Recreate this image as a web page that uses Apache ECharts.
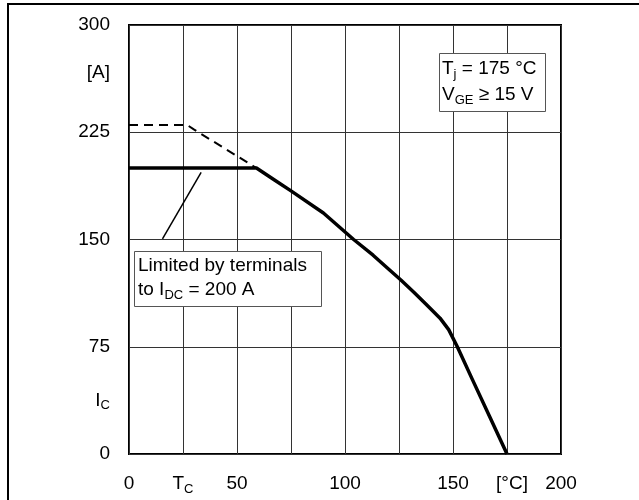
<!DOCTYPE html>
<html>
<head>
<meta charset="utf-8">
<script src="https://cdn.jsdelivr.net/npm/echarts@6/dist/echarts.min.js"></script>
<style>html,body{margin:0;padding:0;background:#fff;}#c{width:639px;height:500px;}</style>
</head>
<body>
<div id="c"></div>
<script>
// Data
const solidT = [0, 59, 67, 75, 90, 104, 113, 120, 126, 132, 138, 144, 148, 152, 159, 167, 175];
const solidI = [200, 200, 192, 184, 168.5, 150, 139, 129.5, 121.5, 113, 104, 95, 87, 75, 52, 26, 0];
const dashT = [0, 27, 30, 59];
const dashI = [230, 230, 227, 200];
const leaderT = [15.5, 33.4];
const leaderI = [150.4, 197];
const xTickLabels = ['0', '{it|T}{sub|C}', '50', '', '100', '', '150', '{deg|[°C]}', '200'];
const yTickLabels = ['0', '{ic|I}{icsub|C}', '75', '', '150', '', '225', '{amp|[A]}', '300'];

const FONT = '"Liberation Sans", Arial, sans-serif';
const FS = 19;

const chart = echarts.init(document.getElementById('c'), null, {renderer: 'canvas'});
const zip = (a, b) => a.map((v, i) => [v, b[i]]);

chart.setOption({
  animation: false,
  backgroundColor: '#fff',
  grid: {left: 129, top: 25, right: 78, bottom: 46, show: true, borderColor: '#000', borderWidth: 2, backgroundColor: 'transparent'},
  xAxis: {
    type: 'value', min: 0, max: 200, interval: 25,
    axisLine: {show: false}, axisTick: {show: false},
    splitLine: {show: true, lineStyle: {color: '#333', width: 1}},
    axisLabel: {
      margin: 20, color: '#000', fontFamily: FONT, fontSize: FS,
      formatter: v => xTickLabels[Math.round(v / 25)],
      rich: {
        it: {fontFamily: FONT, fontSize: FS, color: '#000', padding: [0, 0, 6, 0]},
        sub: {fontFamily: FONT, fontSize: 13, color: '#000', padding: [0, 0, -6, 0]},
        deg: {fontFamily: FONT, fontSize: FS, color: '#000', padding: [0, 0, 0, 10]}
      }
    }
  },
  yAxis: [{
    type: 'value', min: 0, max: 300, interval: 37.5,
    axisLine: {show: false}, axisTick: {show: false}, splitLine: {show: false},
    axisLabel: {
      margin: 19, color: '#000', fontFamily: FONT, fontSize: FS,
      formatter: v => yTickLabels[Math.round(v / 37.5)],
      rich: {
        ic: {fontFamily: FONT, fontSize: FS, color: '#000', padding: [0, 0, 0, 0]},
        icsub: {fontFamily: FONT, fontSize: 13, color: '#000', padding: [10, 0, 0, 0]},
        amp: {fontFamily: FONT, fontSize: FS, color: '#000', padding: [0, 0, 12, 0]}
      }
    }
  }, {
    type: 'value', min: 0, max: 300, interval: 75, position: 'left',
    axisLine: {show: false}, axisTick: {show: false}, axisLabel: {show: false},
    splitLine: {show: true, lineStyle: {color: '#333', width: 1}}
  }],
  series: [
    {type: 'line', data: zip(dashT, dashI), symbol: 'none', lineStyle: {color: '#000', width: 2, type: [9, 6]}, z: 3},
    {type: 'line', data: zip(solidT, solidI), symbol: 'none', smooth: false, lineStyle: {color: '#000', width: 3.5, join: 'round'}, z: 4},
    {type: 'line', data: zip(leaderT, leaderI), symbol: 'none', lineStyle: {color: '#000', width: 1.5}, z: 4}
  ],
  graphic: [
    {type: 'rect', shape: {x: 8, y: 4, width: 700, height: 600}, style: {fill: 'none', stroke: '#000', lineWidth: 2}, silent: true, z: 10},
    {type: 'rect', shape: {x: 134.5, y: 251.5, width: 187, height: 55}, style: {fill: '#fff', stroke: '#555', lineWidth: 1}, z: 20},
    {type: 'text', x: 138, y: 254, z: 21, style: {
      text: '{a|Limited by terminals}\n{a|to I}{s|DC}{a| = 200 A}', fill: '#000',
      rich: {
        a: {fontFamily: FONT, fontSize: FS, lineHeight: 24, fill: '#000'},
        s: {fontFamily: FONT, fontSize: 13, lineHeight: 24, fill: '#000', padding: [10, 0, 0, 0]}
      }
    }},
    {type: 'rect', shape: {x: 439.5, y: 53.5, width: 106, height: 58}, style: {fill: '#fff', stroke: '#555', lineWidth: 1}, z: 20},
    {type: 'text', x: 442, y: 56, z: 21, style: {
      text: '{a|T}{s|j}{a| = 175 °C}\n{a|V}{s|GE}{a| ≥ 15 V}', fill: '#000',
      rich: {
        a: {fontFamily: FONT, fontSize: FS, lineHeight: 26, fill: '#000'},
        s: {fontFamily: FONT, fontSize: 13, lineHeight: 26, fill: '#000', padding: [10, 0, 0, 0]}
      }
    }}
  ]
});
</script>
</body>
</html>
